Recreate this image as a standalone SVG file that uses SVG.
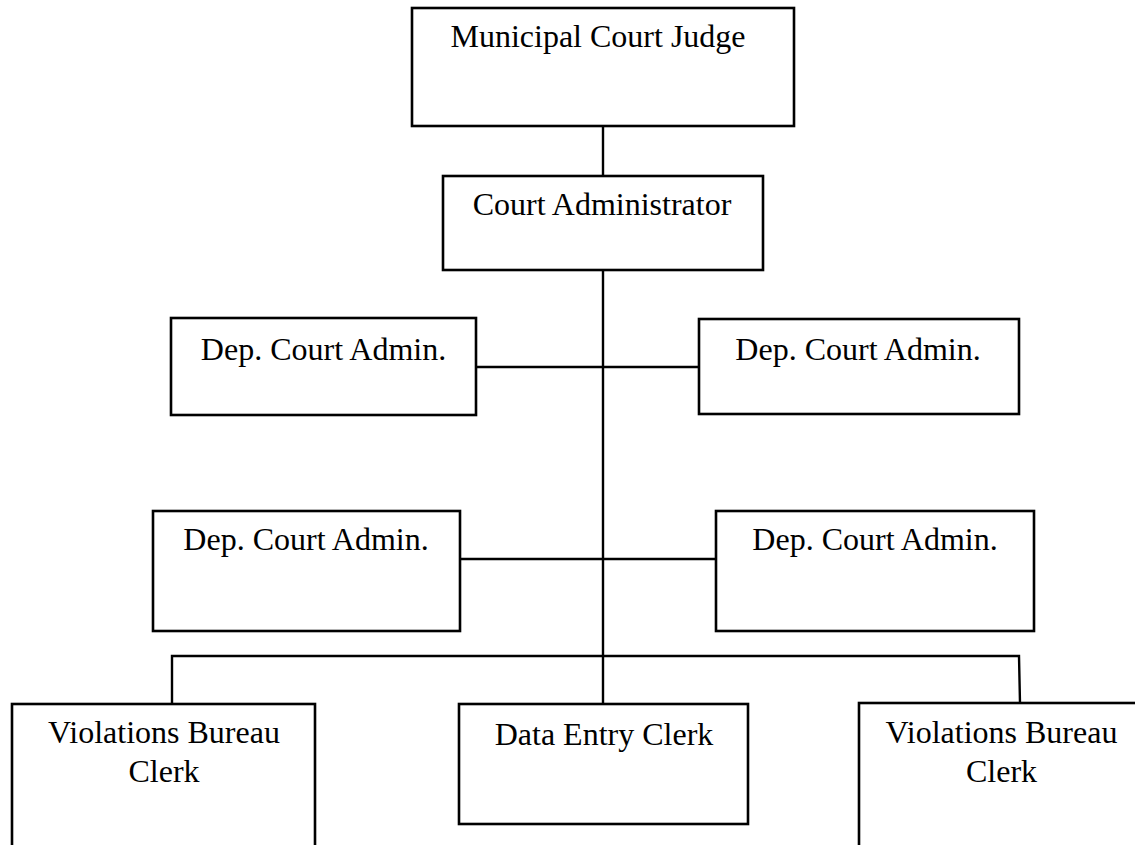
<svg xmlns="http://www.w3.org/2000/svg" width="1135" height="845" viewBox="0 0 1135 845">
<style>
.box{fill:#fff;stroke:#000;stroke-width:2.6}
.ln{fill:none;stroke:#000;stroke-width:2.4}
text{font-family:"Liberation Serif","Times New Roman",serif;font-size:32px;fill:#000;text-anchor:middle}
</style>
<rect width="1135" height="845" fill="#fff"/>
<g id="connectors">
<line class="ln" x1="603" y1="126" x2="603" y2="176"/>
<line class="ln" x1="603" y1="270" x2="603" y2="704"/>
<line class="ln" x1="476" y1="367" x2="699" y2="367"/>
<line class="ln" x1="460" y1="559" x2="716" y2="559"/>
<polyline class="ln" points="172,704 172,656 1019,656 1020,703"/>
</g>
<g id="judge">
<rect class="box" x="412" y="8" width="382" height="118"/>
<text x="598" y="47">Municipal Court Judge</text>
</g>
<g id="admin">
<rect class="box" x="443" y="176" width="320" height="94"/>
<text x="602" y="215">Court Administrator</text>
</g>
<g id="dep1">
<rect class="box" x="171" y="318" width="305" height="97"/>
<text x="323.5" y="360">Dep. Court Admin.</text>
</g>
<g id="dep2">
<rect class="box" x="699" y="319" width="320" height="95"/>
<text x="858" y="360">Dep. Court Admin.</text>
</g>
<g id="dep3">
<rect class="box" x="153" y="511" width="307" height="120"/>
<text x="306" y="550">Dep. Court Admin.</text>
</g>
<g id="dep4">
<rect class="box" x="716" y="511" width="318" height="120"/>
<text x="875" y="550">Dep. Court Admin.</text>
</g>
<g id="vbc1">
<rect class="box" x="12" y="704" width="303" height="160"/>
<text x="164" y="743">Violations Bureau</text>
<text x="164" y="782">Clerk</text>
</g>
<g id="dataentry">
<rect class="box" x="459" y="704" width="289" height="120"/>
<text x="604" y="745">Data Entry Clerk</text>
</g>
<g id="vbc2">
<rect class="box" x="859" y="703" width="290" height="160"/>
<text x="1001.5" y="743">Violations Bureau</text>
<text x="1001.5" y="782">Clerk</text>
</g>
</svg>
